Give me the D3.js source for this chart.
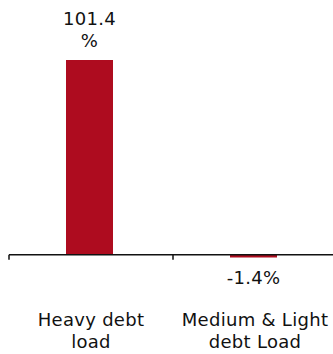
<!DOCTYPE html>
<html>
<head>
<meta charset="utf-8">
<script src="https://cdn.jsdelivr.net/npm/d3@7"></script>
<style>
  html, body { margin: 0; padding: 0; background: #fff; }
  svg text { font-family: "DejaVu Sans", Verdana, sans-serif; fill: #111; letter-spacing: 0.3px; }
</style>
</head>
<body>
<svg id="chart" width="333" height="354"></svg>
<script>
// Debt-load groups and their percentage change
const categories = ["Heavy debt load", "Medium & Light debt Load"];
const categoryLines = [["Heavy debt", "load"], ["Medium & Light", "debt Load"]];
const values = [101.4, -1.4];
const valueLabels = [["101.4", "%"], ["-1.4%"]];

const svg = d3.select("#chart");
const barColor = "#AE0C1F";

const x = d3.scaleBand().domain(categories).range([9, 337]);
const y = d3.scaleLinear().domain([-1.4, 101.4]).range([257.5, 60]);
const barW = 47;

// Bars
svg.append("g").selectAll("rect")
  .data(values)
  .join("rect")
  .attr("x", (d, i) => x(categories[i]) + x.bandwidth() / 2 - barW / 2 - 1.5)
  .attr("y", d => y(Math.max(0, d)))
  .attr("width", barW)
  .attr("height", d => Math.abs(y(d) - y(0)))
  .attr("fill", barColor);

// Category axis along zero
const axis = svg.append("g").attr("transform", `translate(0,${y(0)})`);
axis.append("line")
  .attr("x1", 9).attr("x2", 333)
  .attr("stroke", "#111").attr("stroke-width", 1.5);
const edges = categories.map(c => x(c));
axis.selectAll("line.tick")
  .data(edges)
  .join("line")
  .attr("class", "tick")
  .attr("x1", d => d).attr("x2", d => d)
  .attr("y1", 0).attr("y2", 5)
  .attr("stroke", "#111").attr("stroke-width", 1.5);

// Value labels
values.forEach((v, i) => {
  const cx = x(categories[i]) + x.bandwidth() / 2 - 1.5;
  const lines = valueLabels[i];
  const t = svg.append("text")
    .attr("text-anchor", "middle")
    .attr("font-size", 18);
  if (v >= 0) {
    lines.forEach((s, j) => {
      t.append("tspan").attr("x", cx)
        .attr("y", y(v) - 35 + j * 22).text(s);
    });
  } else {
    t.append("tspan").attr("x", cx).attr("y", y(v) + 26).text(lines[0]);
  }
});

// Category labels
categoryLines.forEach((lines, i) => {
  const cx = x(categories[i]) + x.bandwidth() / 2;
  const t = svg.append("text")
    .attr("text-anchor", "middle")
    .attr("font-size", 18);
  lines.forEach((s, j) => {
    t.append("tspan").attr("x", cx).attr("y", 326 + j * 22).text(s);
  });
});
</script>
</body>
</html>
